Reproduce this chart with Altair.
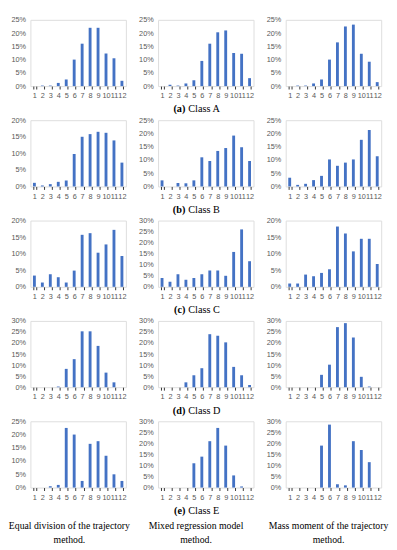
import altair as alt
import pandas as pd

categories = list(range(1, 13))
row_tags = ["(a)", "(b)", "(c)", "(d)", "(e)"]
row_classes = ["Class A", "Class B", "Class C", "Class D", "Class E"]
method_line1 = ["Equal division of the trajectory", "Mixed regression model", "Mass moment of the trajectory"]
method_line2 = ["method.", "method.", "method."]

equal_A = [0, 0.2, 0.2, 1.2, 2.5, 10, 16, 22, 22, 12.3, 10.5, 2]
mixed_A = [0, 0.5, 0.2, 1, 2.2, 9.5, 16, 20.3, 21, 12.5, 12.2, 3]
mass_A = [0, 0.2, 0.2, 1, 2.5, 10, 16.5, 22.5, 23.2, 12.2, 9.2, 1.5]
equal_B = [1.1, 0.3, 0.7, 1.4, 1.8, 9.8, 15, 15.8, 16.5, 16.2, 13.9, 7.2]
mixed_B = [2.3, 0, 1.3, 1.2, 2.3, 11, 9.6, 13.4, 14.5, 19.2, 14.8, 9.6]
mass_B = [3.3, 0.6, 1, 2.4, 4, 10.2, 7.8, 9, 10.2, 17.6, 21.3, 11.4]
equal_C = [3.4, 1.3, 3.8, 2.9, 1.3, 4.9, 15.7, 16.2, 10.3, 12.8, 17.2, 9.3]
mixed_C = [4, 2.3, 5.7, 3.2, 4, 5.7, 7.4, 7.4, 5, 15.8, 26, 11.6]
mass_C = [1, 1, 3.7, 3.2, 4.2, 5.3, 18.2, 16.1, 10.7, 14.5, 14.5, 6.9]
equal_D = [0, 0, 0, 0.3, 8.3, 12.7, 25.3, 25.3, 18.7, 6.6, 2.2, 0]
mixed_D = [0, 0, 0, 2.2, 5.4, 8.6, 24, 23.3, 20.3, 9.2, 5.4, 1]
mass_D = [0, 0, 0, 0, 5.6, 10.2, 27.2, 29, 22.5, 4.7, 0.3, 0]
equal_E = [0, 0, 0.5, 1, 22.5, 20, 2.5, 16.5, 17.5, 12, 5, 2.5]
mixed_E = [0, 0, 0, 0, 11, 14, 21, 27, 19, 5.5, 0.5, 0]
mass_E = [0, 0, 0, 0, 19, 28.5, 1.5, 1, 21, 17, 11.5, 0]

series = [
    [equal_A, mixed_A, mass_A],
    [equal_B, mixed_B, mass_B],
    [equal_C, mixed_C, mass_C],
    [equal_D, mixed_D, mass_D],
    [equal_E, mixed_E, mass_E],
]
y_max = [[25, 25, 25], [20, 25, 25], [20, 30, 20], [30, 30, 30], [25, 30, 30]]

W = 98
H = 68
SERIF = "Liberation Serif"
SANS = "Liberation Sans"
GRAY = "#595959"


def panel(vals, ymax, r, c):
    df = pd.DataFrame({"cat": categories, "val": vals})
    bars = alt.Chart(df).mark_bar(color="#4472C4").encode(
        x=alt.X("cat:O",
                scale=alt.Scale(paddingInner=0.64, paddingOuter=0.32),
                axis=alt.Axis(title=None, labelAngle=0, tickBand="extent", tickSize=3,
                              tickColor="#333333", tickWidth=1, domain=False,
                              labelFont=SANS, labelFontSize=7.5, labelColor=GRAY,
                              labelPadding=3, labelOverlap=False)),
        y=alt.Y("val:Q",
                scale=alt.Scale(domain=[0, ymax], nice=False),
                axis=alt.Axis(title=None, values=list(range(0, ymax + 1, 5)),
                              labelExpr="datum.value + '%'", ticks=False, grid=False,
                              domain=False, labelFont=SANS, labelFontSize=7.5,
                              labelColor=GRAY, labelPadding=5, minExtent=14, maxExtent=14)),
    )
    layers = [bars]
    if c == 1:
        tag_df = pd.DataFrame({"t": [row_tags[r]]})
        cls_df = pd.DataFrame({"t": [row_classes[r]]})
        layers.append(alt.Chart(tag_df).mark_text(font=SERIF, fontSize=10.5, fontWeight="bold",
                                                  align="right", baseline="middle", color="black")
                      .encode(text="t:N", x=alt.value(28), y=alt.value(H + 24)))
        layers.append(alt.Chart(cls_df).mark_text(font=SERIF, fontSize=10.5,
                                                  align="left", baseline="middle", color="black")
                      .encode(text="t:N", x=alt.value(31), y=alt.value(H + 24)))
    if r == 4:
        centers = [40, 39, 44]
        l1 = pd.DataFrame({"t": [method_line1[c]]})
        l2 = pd.DataFrame({"t": [method_line2[c]]})
        layers.append(alt.Chart(l1).mark_text(font=SERIF, fontSize=10, align="center",
                                              baseline="middle", color="black")
                      .encode(text="t:N", x=alt.value(centers[c]), y=alt.value(H + 40)))
        layers.append(alt.Chart(l2).mark_text(font=SERIF, fontSize=10, align="center",
                                              baseline="middle", color="black")
                      .encode(text="t:N", x=alt.value(centers[c]), y=alt.value(H + 54)))
    return alt.layer(*layers).properties(width=W, height=H)


panels = [panel(series[r][c], y_max[r][c], r, c) for r in range(5) for c in range(3)]

chart = alt.concat(*panels, columns=3, spacing={"row": 35, "column": 33},
                   bounds="flush").properties(padding=0).configure_view(
    stroke="#404040", strokeWidth=1
).configure(background="white")

chart.save("out.html", embed_options={"renderer": "svg", "actions": False})
